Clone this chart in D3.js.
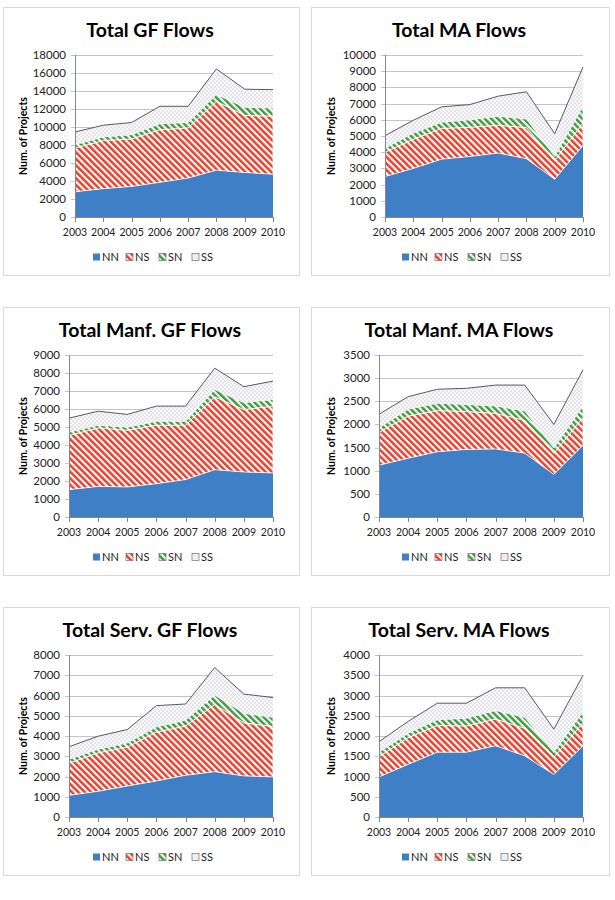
<!DOCTYPE html>
<html>
<head>
<meta charset="utf-8">
<script src="https://cdn.jsdelivr.net/npm/d3@7"></script>
<style>
body { margin: 0; background: #fff; }
text { font-family: Lato, "Liberation Sans", sans-serif; fill: #000; }
</style>
</head>
<body>
<svg id="viz" width="615" height="900"></svg>
<script>
var years = [2003, 2004, 2005, 2006, 2007, 2008, 2009, 2010];
var keys = ["NN", "NS", "SN", "SS"];
var titles = ["Total GF Flows", "Total MA Flows", "Total Manf. GF Flows",
              "Total Manf. MA Flows", "Total Serv. GF Flows", "Total Serv. MA Flows"];
var yMax = [18000, 10000, 9000, 3500, 8000, 4000];
var yStep = [2000, 1000, 1000, 500, 1000, 500];

var totalGF = {
    NN: [2800, 3150, 3400, 3850, 4330, 5200, 4950, 4750],
    NS: [4870, 5350, 5270, 5850, 5570, 7650, 6350, 6450],
    SN: [370, 400, 480, 670, 600, 750, 900, 900],
    SS: [1400, 1300, 1350, 1930, 1800, 2850, 2000, 2050]
};
var totalMA = {
    NN: [2500, 3000, 3570, 3740, 3950, 3600, 2330, 4420],
    NS: [1500, 1800, 1900, 1800, 1710, 1920, 1160, 1380],
    SN: [250, 380, 380, 460, 560, 530, 250, 1040],
    SS: [770, 790, 950, 940, 1240, 1680, 1400, 2420]
};
var manfGF = {
    NN: [1520, 1700, 1670, 1850, 2080, 2630, 2500, 2450],
    NS: [3010, 3250, 3150, 3250, 3020, 4050, 3470, 3710],
    SN: [180, 150, 170, 220, 220, 410, 380, 370],
    SS: [780, 780, 710, 840, 840, 1180, 890, 1020]
};
var manfMA = {
    NN: [1120, 1270, 1410, 1460, 1470, 1380, 920, 1550],
    NS: [710, 910, 890, 820, 770, 710, 460, 600],
    SN: [100, 150, 160, 150, 160, 200, 110, 250],
    SS: [290, 270, 300, 350, 450, 560, 510, 780]
};
var servGF = {
    NN: [1070, 1270, 1530, 1780, 2060, 2240, 2030, 1980],
    NS: [1590, 1900, 1920, 2420, 2430, 3320, 2620, 2490],
    SN: [190, 180, 210, 250, 290, 460, 470, 450],
    SS: [620, 640, 660, 1050, 800, 1360, 950, 980]
};
var servMA = {
    NN: [990, 1300, 1600, 1600, 1760, 1510, 1050, 1760],
    NS: [500, 660, 660, 650, 660, 680, 420, 570],
    SN: [110, 110, 140, 190, 210, 270, 130, 270],
    SS: [260, 290, 410, 370, 560, 730, 570, 900]
};
var charts = [totalGF, totalMA, manfGF, manfMA, servGF, servMA];

var svg = d3.select("#viz");
var defs = svg.append("defs");

function stripes(id, color) {
    var p = defs.append("pattern").attr("id", id)
        .attr("patternUnits", "userSpaceOnUse")
        .attr("width", 4.6).attr("height", 4.6)
        .attr("patternTransform", "rotate(-45)");
    p.append("rect").attr("width", 4.6).attr("height", 4.6).attr("fill", "#fff");
    p.append("rect").attr("width", 2.5).attr("height", 4.6).attr("fill", color);
}
stripes("pNS", "#e8402c");
stripes("pSN", "#3e9b3e");

var dots = defs.append("pattern").attr("id", "pSS")
    .attr("patternUnits", "userSpaceOnUse").attr("width", 4).attr("height", 4);
dots.append("rect").attr("width", 4).attr("height", 4).attr("fill", "#f7f7f9");
dots.append("circle").attr("cx", 1).attr("cy", 1).attr("r", 0.55).attr("fill", "#a8a8b6");
dots.append("circle").attr("cx", 3).attr("cy", 3).attr("r", 0.55).attr("fill", "#a8a8b6");

var fills = { NN: "#3f7fc6", NS: "url(#pNS)", SN: "url(#pSN)", SS: "url(#pSS)" };

function drawChart(i) {
    var col = i % 2, row = Math.floor(i / 2);
    var px = col ? 311 : 3, py = 7 + row * 300;
    var pw = col ? 298 : 296, ph = 268;
    var right = px + pw - 26;
    var left = right - (yMax[i] >= 10000 ? 198 : 204);
    var top = py + 48, bottom = py + 210;

    var g = svg.append("g");
    g.append("rect").attr("x", px + 0.5).attr("y", py + 0.5)
        .attr("width", pw).attr("height", ph)
        .attr("fill", "#fff").attr("stroke", "#d9d9d9");

    g.append("text").attr("x", px + pw / 2 - 1).attr("y", py + 30)
        .attr("text-anchor", "middle")
        .style("font-size", "19.5px").style("font-weight", "bold")
        .text(titles[i]);

    var x = d3.scalePoint().domain(years).range([left, right]);
    var y = d3.scaleLinear().domain([0, yMax[i]]).range([bottom, top]);
    var ticks = d3.range(0, yMax[i] + 1, yStep[i]);

    // gridlines + y labels
    g.selectAll(".grid").data(ticks).enter().append("line")
        .attr("x1", left - 4).attr("x2", right)
        .attr("y1", function (d) { return Math.round(y(d)) + 0.5; })
        .attr("y2", function (d) { return Math.round(y(d)) + 0.5; })
        .attr("stroke", "#c4c4c4");
    g.selectAll(".ylab").data(ticks).enter().append("text")
        .attr("x", left - 9)
        .attr("y", function (d) { return y(d) + 4; })
        .attr("text-anchor", "end")
        .style("font-size", "11.5px").style("fill", "#222")
        .text(function (d) { return d; });

    var c = charts[i];
    var table = years.map(function (yr, j) {
        var r = { year: yr };
        keys.forEach(function (k) { r[k] = c[k][j]; });
        return r;
    });
    var series = d3.stack().keys(keys)(table);

    var area = d3.area()
        .x(function (d) { return x(d.data.year); })
        .y0(function (d) { return y(d[0]); })
        .y1(function (d) { return y(d[1]); });

    g.selectAll(".layer").data(series).enter().append("path")
        .attr("d", area)
        .attr("fill", function (d) { return fills[d.key]; })
        .attr("stroke", function (d) { return d.key === "NS" || d.key === "SN" ? "#fff" : "none"; })
        .attr("stroke-width", 0.8);

    var topLine = d3.line()
        .x(function (d) { return x(d.data.year); })
        .y(function (d) { return y(d[1]); });
    g.append("path").attr("d", topLine(series[3]))
        .attr("fill", "none").attr("stroke", "#5a5a5a").attr("stroke-width", 1);

    // axes
    g.append("line").attr("x1", left + 0.5).attr("x2", left + 0.5)
        .attr("y1", top).attr("y2", bottom).attr("stroke", "#868686");
    g.append("line").attr("x1", left).attr("x2", right)
        .attr("y1", Math.round(bottom) + 0.5).attr("y2", Math.round(bottom) + 0.5)
        .attr("stroke", "#868686");
    g.selectAll(".xt").data(years).enter().append("line")
        .attr("x1", function (d) { return Math.round(x(d)) + 0.5; })
        .attr("x2", function (d) { return Math.round(x(d)) + 0.5; })
        .attr("y1", bottom).attr("y2", bottom + 5)
        .attr("stroke", "#868686");
    g.selectAll(".xlab").data(years).enter().append("text")
        .attr("x", function (d) { return x(d); })
        .attr("y", bottom + 19)
        .attr("text-anchor", "middle")
        .style("font-size", "10.5px").style("fill", "#222")
        .text(function (d) { return d; });

    g.append("text")
        .attr("transform", "translate(" + (px + 24) + "," + ((top + bottom) / 2) + ") rotate(-90)")
        .attr("text-anchor", "middle")
        .style("font-size", "10.5px").style("font-weight", "bold")
        .text("Num. of Projects");

    // legend
    var lg = g.append("g").attr("transform", "translate(" + (px + pw / 2 - 58) + "," + (py + 250) + ")");
    keys.forEach(function (k, j) {
        var it = lg.append("g").attr("transform", "translate(" + (j * 33) + ",0)");
        it.append("rect").attr("x", 0).attr("y", -3.5).attr("width", 7).attr("height", 7)
            .attr("fill", fills[k])
            .attr("stroke", k === "NN" ? "none" : "#6f6f6f").attr("stroke-width", 0.7);
        it.append("text").attr("x", 9).attr("y", 4)
            .style("font-size", "11px").style("fill", "#222")
            .text(k);
    });
}

for (var i = 0; i < 6; i++) drawChart(i);
</script>
</body>
</html>
